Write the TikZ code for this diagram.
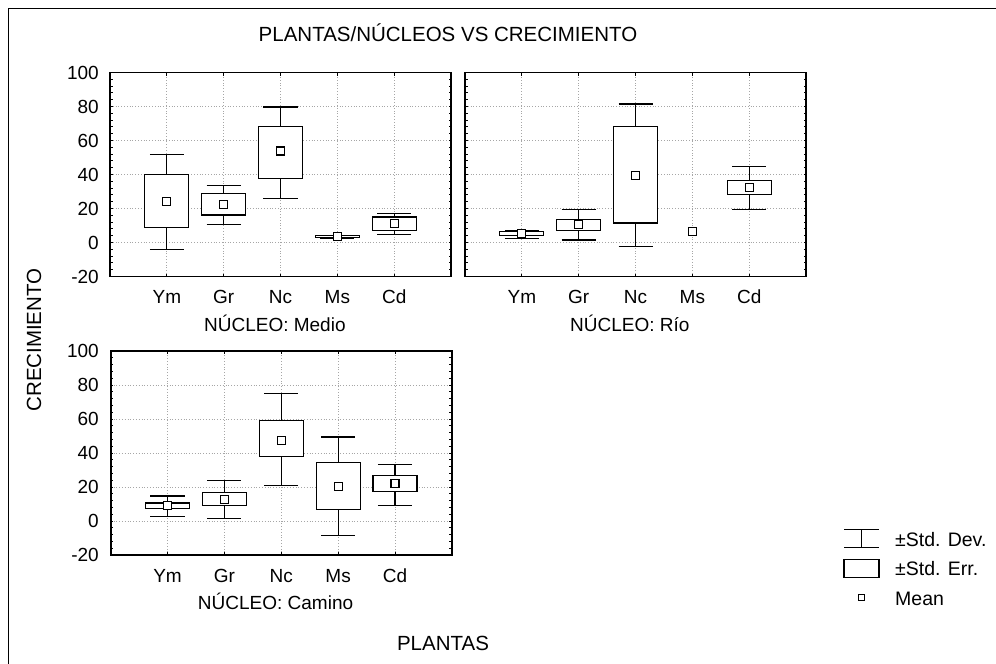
\documentclass[tikz,border=0pt]{standalone}
\usepackage{fontspec}
\setmainfont{Liberation Sans}
\usetikzlibrary{positioning}

% one box-and-whisker panel: #1 name, #2 left x, #3 y of zero, #4 data, #5 caption
\newcommand{\boxpanel}[5]{%
  \begin{scope}[shift={(#2,#3)},x=56.85pt,y=1.7pt]
    \foreach \v in {0,20,...,80}
      \draw[grid line] (0,\v) -- (6,\v);
    \foreach \c in {1,...,5}
      \draw[grid line] (\c,-20) -- (\c,100);
    \foreach \c/\sdlo/\selo/\m/\sehi/\sdhi in {#4}{
      \draw[sd bar] (\c,\sdlo) -- (\c,\sdhi);
      \draw[sd bar] (\c-0.3,\sdlo) -- (\c+0.3,\sdlo);
      \draw[sd bar] (\c-0.3,\sdhi) -- (\c+0.3,\sdhi);
      \draw[se box] (\c-0.387,\selo) rectangle (\c+0.387,\sehi);
      \node[mean dot] (#1-m\c) at (\c,\m) {};
    }
    \foreach \v in {-20,-16,...,100}{
      \draw[tick] (0,\v) -- ++(2.5pt,0);
      \draw[tick] (6,\v) -- ++(-2.5pt,0);
    }
    \foreach \c in {1,...,5}{
      \draw[tick] (\c,-20) -- ++(0,3pt);
      \draw[tick] (\c,100) -- ++(0,-3pt);
    }
    \draw[frame] (0,-20) rectangle (6,100);
    \foreach \c/\t in {1/Ym,2/Gr,3/Nc,4/Ms,5/Cd}
      \node[cat label] (#1-\t) at (\c,-20) [yshift=-27pt] {\t};
    \node[cat label] (#1-name) at (2.9,-20) [yshift=-54.8pt] {#5};
  \end{scope}}

\begin{document}
\begin{tikzpicture}[x=1pt,y=-1pt,
  frame/.style={line width=1.6pt},
  tick/.style={line width=0.9pt},
  grid line/.style={black!35,dotted,line width=0.8pt},
  sd bar/.style={line width=1.1pt},
  se box/.style={draw,line width=1.1pt,fill=white},
  mean dot/.style={draw,line width=1.1pt,fill=white,minimum size=8pt,inner sep=0pt},
  tick label/.style={font=\fontsize{19}{19}\selectfont,anchor=east,inner sep=0pt},
  cat label/.style={font=\fontsize{19}{19}\selectfont,anchor=base,inner sep=0pt},
  key text/.style={font=\fontsize{19.5}{19.5}\selectfont,anchor=west,inner sep=0pt},
  big label/.style={font=\fontsize{20.5}{20.5}\selectfont,inner sep=0pt}]

  \useasboundingbox (0,0) rectangle (996,664);
  \draw[frame] (8.3,664) -- (8.3,8.3) -- (996,8.3);

  \node[big label] (title) at (448,33) {PLANTAS/NÚCLEOS VS CRECIMIENTO};
  \node[big label,rotate=90] (ylab) at (34,340) {CRECIMIENTO};
  \node[big label] (xlab) at (443,643) {PLANTAS};

  \boxpanel{medio}{110}{242.5}{1/-4/9/24/40/52, 2/10.5/16.2/22.4/28.7/33.5,
    3/25.8/37.8/53.8/68.5/79.7, 4/2.6/3/3.4/3.9/4.3, 5/4.7/7.2/11.3/15/17.3}{NÚCLEO: Medio}
  \boxpanel{rio}{465}{242.5}{1/2.3/4.1/5.3/6.6/7.2, 2/1.5/7.2/10.7/13.6/19.3,
    3/-2.2/11.5/39.4/68.5/81.5, 5/19.5/28.3/32.4/36.5/44.6}{NÚCLEO: Río}
  \node[mean dot] (rio-m4) at (692.4,231.6) {};
  \boxpanel{camino}{110.7}{521}{1/2.5/7.5/9/10.6/14.7, 2/1.6/9/12.9/16.9/23.9,
    3/20.8/38.1/47.6/59/75.1, 4/-8.6/6.6/20.2/34.5/49.4, 5/9.2/17.1/21.9/26.6/33.5}{NÚCLEO: Camino}

  \foreach \v in {-20,0,...,100}{
    \node[tick label] (medio-y\v) at (99,{242.5-1.7*\v}) {\v};
    \node[tick label] (camino-y\v) at (99,{521-1.7*\v}) {\v};
  }

  % legend
  \draw[sd bar] (844,529.3) -- (879,529.3) (861.5,529.3) -- (861.5,547.7)
    (844,547.7) -- (879,547.7);
  \draw[se box] (844,559.3) rectangle (879,577.3);
  \node[mean dot,minimum size=6pt] (key-mean) at (861.5,597.7) {};
  \node[key text] (key-sd) at (895,540) {±Std. Dev.};
  \node[key text] (key-se) at (895,569) {±Std. Err.};
  \node[key text] (key-m) at (895,599) {Mean};
\end{tikzpicture}
\end{document}
